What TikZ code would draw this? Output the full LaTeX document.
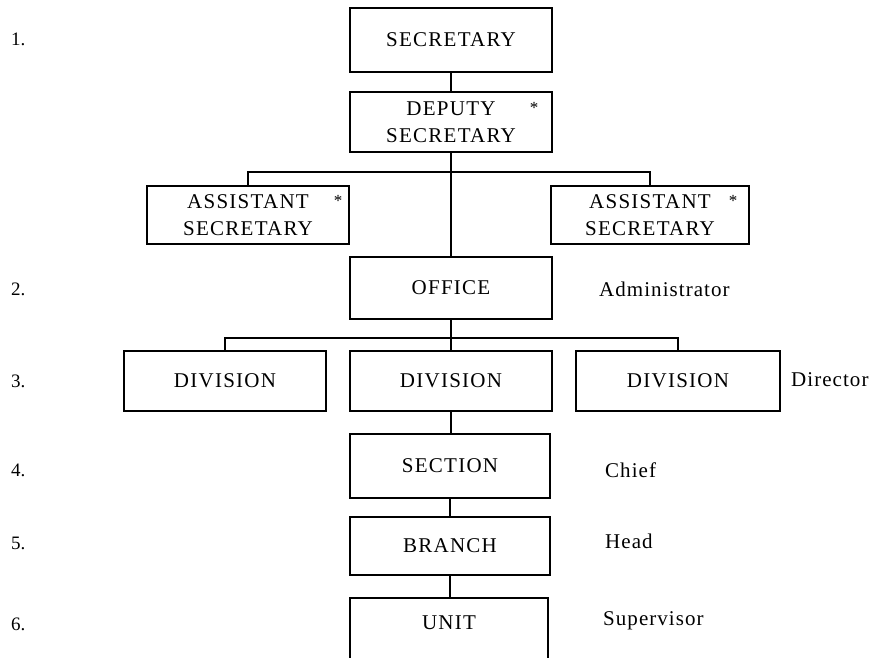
\documentclass[tikz,border=0pt]{standalone}
\usepackage{fontspec}
\setmainfont{Liberation Serif}
\newfontfamily\capsfont[LetterSpace=6]{Liberation Serif}
\newfontfamily\lowfont[LetterSpace=5]{Liberation Serif}
\begin{document}
\begin{tikzpicture}[x=1pt,y=-1pt,
  box/.style={draw, line width=1.8pt, inner sep=0pt, align=center,
    font=\capsfont\fontsize{21}{27.5}\selectfont},
  link/.style={line width=2pt},
  role/.style={anchor=west, inner sep=0pt, font=\lowfont\fontsize{21}{22}\selectfont},
  num/.style={anchor=west, inner sep=0pt, font=\fontsize{19}{20}\selectfont},
  star/.style={inner sep=0pt, font=\fontsize{17}{18}\selectfont}]
\useasboundingbox (0,0) rectangle (886,657);
\clip (0,0) rectangle (886,657);
% boxes
\node[box, minimum width=202pt, minimum height=64pt] (sec) at (451,40) {SECRETARY};
\node[box, minimum width=202pt, minimum height=60pt] (dep) at (451,122) {DEPUTY\\SECRETARY};
\node[box, minimum width=202pt, minimum height=58pt] (as1) at (248,215) {ASSISTANT\\SECRETARY};
\node[box, minimum width=198pt, minimum height=58pt] (as2) at (650,215) {ASSISTANT\\SECRETARY};
\node[box, minimum width=202pt, minimum height=62pt] (off) at (451,288) {OFFICE};
\node[box, minimum width=202pt, minimum height=60pt] (div1) at (225,381) {DIVISION};
\node[box, minimum width=202pt, minimum height=60pt] (div2) at (451,381) {DIVISION};
\node[box, minimum width=204pt, minimum height=60pt] (div3) at (678,381) {DIVISION};
\node[box, minimum width=200pt, minimum height=64pt] (sect) at (450,466) {SECTION};
\node[box, minimum width=200pt, minimum height=58pt] (br) at (450,546) {BRANCH};
\node[box, minimum width=198pt, minimum height=90pt, anchor=north] (unit) at (449,597) {};
\node[box, draw=none] (unitlbl) at (449,623) {UNIT};
% asterisks
\node[star] (s1) at (534,108) {*};
\node[star] (s2) at (338,201) {*};
\node[star] (s3) at (733,201) {*};
% connectors
\coordinate (busA) at (451,172);
\coordinate (busB) at (451,338);
\draw[link] (sec.south) -- (dep.north);
\draw[link] (dep.south) -- (off.north);
\draw[link] (as1.north) -- (as1.north |- busA) -- (as2.north |- busA) -- (as2.north);
\draw[link] (off.south) -- (div2.north);
\draw[link] (div1.north) -- (div1.north |- busB) -- (div3.north |- busB) -- (div3.north);
\draw[link] (div2.south) -- (sect.north -| div2.south);
\draw[link] (sect.south) -- (br.north);
\draw[link] (br.south) -- (unit.north -| br.south);
% role labels
\node[role] (r2) at (599,289) {Administrator};
\node[role] (r3) at (791,380) {Director};
\node[role] (r4) at (605,470) {Chief};
\node[role] (r5) at (605,541) {Head};
\node[role] (r6) at (603,621) {Supervisor};
% level numbers
\node[num] (n1) at (11,39) {1.};
\node[num] (n2) at (11,289) {2.};
\node[num] (n3) at (11,381) {3.};
\node[num] (n4) at (11,470) {4.};
\node[num] (n5) at (11,543) {5.};
\node[num] (n6) at (11,624) {6.};
\end{tikzpicture}
\end{document}
